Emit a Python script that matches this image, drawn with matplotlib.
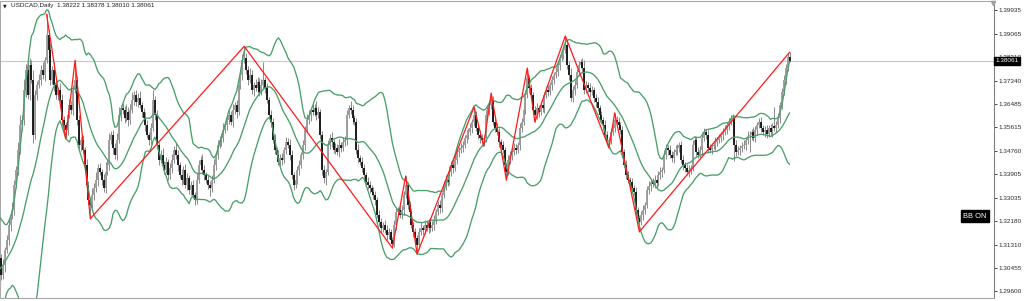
import numpy as np
import pandas as pd
import matplotlib
matplotlib.use("Agg")
import matplotlib.pyplot as plt
import matplotlib.transforms as mtrans

# closes of the 20 days before the first visible bar (only needed for the bands)
pre_close = [1.2850, 1.2880, 1.2870, 1.2920, 1.2960, 1.2990, 1.2980, 1.3010, 1.3050, 1.3030,
             1.3060, 1.3110, 1.3140, 1.3130, 1.3100, 1.3160, 1.3180, 1.3130, 1.3120, 1.3080]

# daily closes (open = previous close)
close = [
    1.3019, 1.3056, 1.3111, 1.3148, 1.3203, 1.3239, 1.3258, 1.3350, 1.3405, 1.3479,
    1.3571, 1.3589, 1.3699, 1.3773, 1.3681, 1.3791, 1.3736, 1.3534, 1.3681, 1.3718,
    1.3736, 1.3773, 1.3754, 1.3810, 1.3902,
    1.3846, 1.3736, 1.3773, 1.3718, 1.3681, 1.3699, 1.3663, 1.3589, 1.3571, 1.3552,
    1.3607, 1.3644, 1.3626, 1.3699, 1.3736, 1.3589, 1.3497, 1.3515, 1.3479, 1.3423,
    1.3350, 1.3295, 1.3276,
    1.3313, 1.3339, 1.3368, 1.3412, 1.3398, 1.3368, 1.3339, 1.3398, 1.3423, 1.3515,
    1.3534, 1.3486, 1.3460, 1.3515, 1.3607, 1.3633, 1.3626, 1.3596, 1.3618, 1.3589,
    1.3626, 1.3663, 1.3681, 1.3655, 1.3670, 1.3644, 1.3618, 1.3596, 1.3571, 1.3534,
    1.3515, 1.3559, 1.3663, 1.3607, 1.3497, 1.3442, 1.3460, 1.3423, 1.3405, 1.3434,
    1.3387, 1.3412, 1.3442, 1.3479, 1.3460, 1.3423, 1.3387, 1.3368, 1.3405, 1.3350,
    1.3376, 1.3331, 1.3350, 1.3313, 1.3295, 1.3368, 1.3423, 1.3442, 1.3405, 1.3387,
    1.3368, 1.3350, 1.3339, 1.3368, 1.3423, 1.3460, 1.3497, 1.3515, 1.3523, 1.3552,
    1.3571, 1.3589, 1.3607, 1.3582, 1.3626, 1.3644, 1.3618, 1.3718, 1.3754, 1.3810,
    1.3817,
    1.3773, 1.3736, 1.3754, 1.3699, 1.3718, 1.3707, 1.3729, 1.3692, 1.3718, 1.3736,
    1.3707, 1.3663, 1.3607, 1.3582, 1.3515, 1.3479, 1.3460, 1.3434, 1.3449, 1.3442,
    1.3479, 1.3508, 1.3497, 1.3460, 1.3387, 1.3350, 1.3368, 1.3405, 1.3423, 1.3460,
    1.3497, 1.3552, 1.3589, 1.3607, 1.3626, 1.3618, 1.3633, 1.3607, 1.3618, 1.3534,
    1.3405, 1.3376, 1.3398, 1.3497, 1.3523, 1.3508, 1.3479, 1.3486, 1.3471, 1.3497,
    1.3486, 1.3508, 1.3515, 1.3607, 1.3633, 1.3626, 1.3596, 1.3582, 1.3479, 1.3449,
    1.3434, 1.3412, 1.3387, 1.3361, 1.3350, 1.3339, 1.3324, 1.3313, 1.3295, 1.3239,
    1.3214, 1.3192, 1.3203, 1.3184, 1.3166, 1.3177, 1.3148, 1.3133,
    1.3203, 1.3251, 1.3258, 1.3239, 1.3258, 1.3313, 1.3350, 1.3276, 1.3251, 1.3203,
    1.3177, 1.3155, 1.3129, 1.3177, 1.3192, 1.3184, 1.3203, 1.3192, 1.3214, 1.3192,
    1.3203, 1.3221, 1.3251, 1.3276, 1.3265, 1.3313, 1.3350, 1.3368, 1.3361, 1.3398,
    1.3423, 1.3412, 1.3442, 1.3471, 1.3479, 1.3486, 1.3497, 1.3523, 1.3534, 1.3545,
    1.3559, 1.3582, 1.3607,
    1.3559, 1.3534, 1.3523, 1.3515, 1.3523, 1.3607, 1.3626, 1.3644, 1.3663, 1.3582,
    1.3559, 1.3545, 1.3508, 1.3497, 1.3479, 1.3423, 1.3398, 1.3442, 1.3460, 1.3471,
    1.3486, 1.3479, 1.3497, 1.3559, 1.3582, 1.3626, 1.3681, 1.3743, 1.3707, 1.3681,
    1.3626, 1.3607, 1.3633, 1.3618, 1.3644, 1.3633, 1.3681, 1.3699, 1.3692, 1.3718,
    1.3736, 1.3754, 1.3765, 1.3791, 1.3817, 1.3828, 1.3846, 1.3865,
    1.3791, 1.3754, 1.3670, 1.3699, 1.3718, 1.3765, 1.3791, 1.3802, 1.3780, 1.3699,
    1.3718, 1.3707, 1.3692, 1.3699, 1.3670, 1.3655, 1.3633, 1.3607, 1.3589, 1.3571,
    1.3534, 1.3508, 1.3515, 1.3545, 1.3559, 1.3589, 1.3582, 1.3571, 1.3552, 1.3471,
    1.3423, 1.3387, 1.3368, 1.3361, 1.3339, 1.3324, 1.3258, 1.3228, 1.3214,
    1.3239, 1.3258, 1.3276, 1.3331, 1.3346, 1.3361, 1.3354, 1.3368, 1.3357, 1.3387,
    1.3398, 1.3405, 1.3460, 1.3486, 1.3479, 1.3460, 1.3449, 1.3471, 1.3479, 1.3486,
    1.3497, 1.3442, 1.3423, 1.3412, 1.3398, 1.3405, 1.3412, 1.3497, 1.3515, 1.3471,
    1.3460, 1.3479, 1.3523, 1.3545, 1.3534, 1.3486, 1.3479, 1.3493, 1.3497, 1.3508,
    1.3515, 1.3523, 1.3534, 1.3545, 1.3552, 1.3571, 1.3582, 1.3589, 1.3596, 1.3497,
    1.3471, 1.3479, 1.3486, 1.3493, 1.3497, 1.3515, 1.3530, 1.3534, 1.3545, 1.3523,
    1.3552, 1.3571, 1.3582, 1.3559, 1.3545, 1.3552, 1.3537, 1.3559, 1.3545, 1.3567,
    1.3559, 1.3571, 1.3596, 1.3644, 1.3692, 1.3736, 1.3780, 1.3822, 1.38061,
]

# upper / lower shadows in pips
wick_up = [
    15, 22, 10, 18, 25, 12, 30, 20, 14, 28, 35, 18, 40, 22, 30, 25, 18, 35, 20, 15,
    22, 18, 30, 12, 75, 20, 25, 15, 30, 18, 12, 25, 20, 15, 10, 18, 22, 14, 20, 72,
    15, 20, 12, 18, 10, 22, 15, 12, 25, 18, 30, 14, 20, 12, 22, 35, 18, 25, 15, 20,
    18, 25, 30, 12, 20, 15, 28, 18, 22, 30, 15, 20, 18, 25, 12, 15, 22, 18, 12, 20,
    35, 15, 20, 12, 18, 25, 15, 20, 12, 18, 22, 14, 25, 18, 12, 20, 15, 22, 18, 12,
    15, 20, 12, 25, 18, 15, 22, 18, 12, 20, 15, 18, 22, 12, 20, 15, 18, 25, 12, 20,
    18, 15, 22, 12, 20, 25, 18, 22, 43, 20, 15, 25, 18, 12, 22, 18, 15, 20, 66, 12,
    18, 12, 20, 15, 22, 12, 18, 15, 20, 12, 18, 15, 22, 18, 12, 20, 15, 18, 12, 20,
    15, 22, 18, 12, 20, 15, 25, 18, 12, 15, 20, 12, 18, 15, 20, 12, 18, 15, 22, 12,
    18, 15, 20, 12, 25, 18, 12, 15, 20, 12, 18, 15, 12, 20, 15, 12, 18, 15, 12, 20,
    15, 12, 18, 20, 15, 12, 10, 20, 15, 12, 18, 20, 15, 33, 12, 15, 10, 12, 15, 10,
    15, 20, 12, 18, 15, 12, 20, 15, 18, 12, 15, 20, 12, 15, 18, 12, 20, 15, 12, 18,
    15, 12, 18, 15, 12, 20, 15, 18, 12, 30, 15, 12, 18, 15, 12, 15, 18, 12, 25, 15,
    12, 18, 15, 12, 15, 12, 10, 18, 15, 12, 18, 15, 12, 20, 15, 12, 18, 37, 12, 15,
    12, 15, 18, 12, 15, 20, 12, 15, 18, 12, 15, 12, 18, 15, 12, 15, 12, 33, 18, 15,
    25, 15, 18, 12, 15, 12, 15, 30, 15, 12, 18, 15, 12, 15, 18, 12, 15, 12, 18, 15,
    12, 15, 18, 26, 15, 18, 12, 15, 12, 18, 15, 12, 15, 12, 18, 12, 10, 15, 18, 12,
    15, 18, 12, 15, 18, 12, 15, 18, 12, 20, 15, 12, 18, 15, 12, 18, 15, 12, 15, 18,
    12, 15, 18, 12, 20, 15, 12, 18, 15, 20, 15, 12, 18, 15, 12, 15, 18, 12, 15, 12,
    15, 18, 12, 15, 20, 15, 12, 18, 15, 12, 15, 18, 12, 20, 15, 12, 18, 15, 12, 15,
    18, 12, 15, 18, 12, 15, 12, 70, 15, 18, 12, 15, 20, 15, 12, 16,
]
wick_dn = [
    20, 15, 25, 12, 18, 22, 15, 20, 12, 18, 15, 22, 18, 25, 15, 20, 12, 30, 15, 18,
    12, 18, 15, 20, 12, 25, 18, 15, 22, 15, 18, 12, 20, 15, 32, 18, 12, 15, 20, 12,
    18, 15, 22, 12, 18, 15, 20, 50, 12, 18, 15, 22, 12, 18, 15, 20, 12, 18, 15, 22,
    15, 18, 12, 20, 15, 18, 12, 22, 15, 12, 18, 15, 20, 12, 18, 15, 22, 12, 18, 15,
    12, 18, 15, 20, 12, 18, 15, 12, 20, 15, 18, 12, 15, 20, 12, 18, 15, 12, 20, 15,
    18, 12, 20, 15, 12, 18, 15, 20, 12, 15, 28, 15, 12, 18, 15, 12, 20, 15, 12, 18,
    15, 12, 18, 15, 20, 12, 15, 18, 12, 15, 18, 12, 15, 20, 12, 18, 15, 12, 15, 18,
    12, 15, 18, 12, 15, 20, 12, 15, 18, 12, 15, 12, 18, 15, 20, 12, 15, 18, 12, 15,
    18, 12, 15, 20, 12, 15, 18, 12, 15, 20, 18, 25, 12, 15, 18, 12, 15, 12, 18, 15,
    12, 15, 18, 12, 15, 20, 12, 15, 18, 12, 15, 18, 12, 15, 18, 12, 15, 20, 12, 15,
    18, 15, 12, 20, 15, 12, 15, 12, 18, 15, 12, 15, 18, 12, 15, 20, 12, 18, 15, 33,
    15, 12, 18, 15, 12, 18, 15, 12, 20, 15, 12, 18, 15, 12, 18, 15, 12, 15, 18, 12,
    15, 18, 12, 15, 12, 18, 15, 12, 18, 15, 12, 15, 18, 12, 22, 15, 12, 18, 15, 12,
    15, 12, 18, 15, 12, 15, 30, 12, 15, 18, 12, 15, 12, 18, 15, 12, 15, 12, 18, 15,
    12, 25, 15, 18, 12, 15, 18, 12, 15, 12, 18, 15, 12, 15, 18, 12, 15, 12, 15, 18,
    12, 15, 18, 12, 15, 12, 18, 15, 12, 15, 18, 12, 15, 18, 12, 15, 12, 18, 15, 12,
    22, 15, 12, 15, 18, 12, 15, 18, 12, 15, 12, 18, 15, 12, 18, 15, 36, 12, 18, 15,
    12, 15, 18, 12, 15, 18, 12, 15, 20, 12, 15, 18, 12, 15, 18, 12, 20, 15, 12, 18,
    15, 12, 18, 15, 12, 18, 15, 12, 15, 18, 12, 15, 18, 12, 15, 12, 18, 15, 12, 15,
    18, 12, 15, 18, 12, 15, 60, 15, 12, 18, 15, 12, 18, 15, 60, 18, 12, 15, 18, 12,
    15, 12, 18, 15, 12, 15, 18, 12, 15, 12, 18, 15, 12, 15, 12, 5,
]

# zigzag turning points (bar index, price)
zz_bar = [24, 34, 39, 47, 128, 206, 213, 219, 249, 254, 258, 266, 277, 281, 297, 320, 323, 336, 415]
zz_price = [1.3977, 1.3520, 1.3808, 1.3226, 1.3860, 1.3118, 1.3383, 1.3096, 1.3637, 1.3493,
            1.3688, 1.3368, 1.3780, 1.3582, 1.3898, 1.3486, 1.3615, 1.3178, 1.38378]

price_ticks = [1.39935, 1.39065, 1.38210, 1.37340, 1.36485, 1.35615, 1.34760,
               1.33905, 1.33035, 1.32180, 1.31310, 1.30455, 1.29600]
last_ohlc = [1.38222, 1.38378, 1.38010, 1.38061]
title = "USDCAD,Daily"

# --- candles
c = np.array(close)
o = np.r_[pre_close[-1], c[:-1]]
hi = np.maximum(o, c) + np.array(wick_up) / 1e4
lo = np.minimum(o, c) - np.array(wick_dn) / 1e4
xs = np.arange(len(c))
up = c >= o

# --- bollinger 20, 2
s = pd.Series(pre_close + close)
mid = s.rolling(20).mean()
sd = s.rolling(20).std(ddof=0)
xb = np.arange(-len(pre_close), len(close))

fig = plt.figure(figsize=(10.24, 3.01), dpi=100)
ax = fig.add_axes([0, 3 / 301, 994 / 1024, 297 / 301])

ax.axhline(last_ohlc[3], color="#c8c8c8", lw=0.8, zorder=1)

ax.vlines(xs, lo, hi, color="#8a8a8a", lw=0.7, zorder=2)
ax.vlines(xs[up], o[up], c[up], color="#9c9c9c", lw=1.35, zorder=3)
ax.vlines(xs[~up], c[~up], o[~up], color="#151515", lw=1.35, zorder=3)

green = "#4a9f6a"
ax.plot(xb, mid, color=green, lw=0.95, zorder=4)
ax.plot(xb, mid + 2 * sd, color=green, lw=0.95, zorder=4)
ax.plot(xb, mid - 2 * sd, color=green, lw=0.95, zorder=4)

ax.plot(zz_bar, zz_price, color="#ff1a1a", lw=0.9, zorder=5)

ax.set_xlim(-1 / 1.9, 993 / 1.9)
ax.set_ylim(1.29343, 1.40266)

ax.set_xticks([])
ax.yaxis.tick_right()
ax.set_yticks(price_ticks)
ax.set_yticklabels(["%.5f" % t for t in price_ticks])
ax.tick_params(axis="y", labelsize=4.6, length=2.2, width=0.6, pad=1.2,
               colors="#2a2a2a", labelfontfamily="Liberation Sans")
for sp in ax.spines.values():
    sp.set_color("#a8a8a8")
    sp.set_linewidth(0.8)
ax.spines["right"].set_color("#808080")

tr = mtrans.blended_transform_factory(ax.transAxes, ax.transData)
ax.text(1.0015, last_ohlc[3], "%.5f" % last_ohlc[3], transform=tr, ha="left", va="center",
        fontsize=4.6, color="white", family="Liberation Sans", zorder=10, clip_on=False,
        bbox=dict(boxstyle="square,pad=0.22", fc="black", ec="black"))
ax.text(0.981, 0.276, "BB ON", transform=ax.transAxes, ha="center", va="center",
        fontsize=5.4, color="white", family="Liberation Sans", zorder=10,
        bbox=dict(boxstyle="square,pad=0.3", fc="black", ec="black"))

ax.plot([0.9985], [0.993], marker="v", ms=3, color="#a0a0a0", transform=ax.transAxes,
        clip_on=False, zorder=10)

fig.text(3 / 1024, 1 - 6 / 301, "\u25bc", fontsize=3.5, va="center", ha="left", color="#202020")
fig.text(11 / 1024, 1 - 6 / 301,
         "%s  %.5f %.5f %.5f %.5f" % (title, *last_ohlc),
         fontsize=4.6, va="center", ha="left", color="#202020", family="Liberation Sans")

fig.savefig("out.png", dpi=100)
